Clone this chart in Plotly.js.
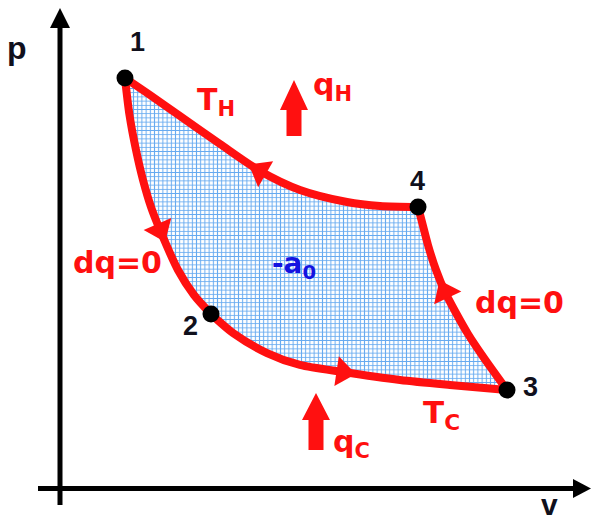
<!DOCTYPE html>
<html><head><meta charset="utf-8">
<script src="https://cdn.plot.ly/plotly-3.0.1.min.js"></script>
<style>html,body{margin:0;padding:0;background:#fff}#chart{width:591px;height:522px}</style>
</head><body><div id="chart"></div>
<script>
// ---- data: specific volume v and pressure p (arbitrary units) ----
// isotherm T_H, state 1 -> state 4
const isoHot_v = [12.26, 16.98, 22.64, 30.19, 37.74, 45.28, 54.15, 60.38, 67.55];
const isoHot_p = [86.74, 83.16, 78.74, 72.84, 67.16, 63.16, 60.63, 59.79, 59.58];
// adiabat dq=0, state 1 -> state 2
const adiaA_v = [12.26, 13.11, 14.34, 15.66, 17.17, 18.87, 22.26, 25.28, 28.49];
const adiaA_p = [86.74, 78.95, 71.58, 65.26, 59.58, 54.74, 46.32, 41.05, 37.05];
// isotherm T_C, state 2 -> state 3
const isoCold_v = [28.49, 32.64, 39.06, 45.28, 53.40, 64.15, 73.58, 84.34];
const isoCold_p = [37.05, 33.05, 28.84, 26.32, 24.84, 23.16, 22.11, 21.05];
// adiabat dq=0, state 4 -> state 3
const adiaB_v = [67.55, 68.30, 69.43, 70.94, 72.64, 74.72, 76.98, 80.00, 84.34];
const adiaB_p = [59.58, 56.42, 51.58, 46.32, 41.68, 37.26, 32.84, 27.79, 21.05];
const stateLabels = ['1', '2', '3', '4'];

// ---- geometry helpers ----
const W = 591, H = 522;
const M = {l: 60, r: 1, t: 15, b: 32};
const PW = W - M.l - M.r, PH = H - M.t - M.b;
const XR = [0, 100], YR = [0, 100];
const sx = PW / (XR[1] - XR[0]), sy = PH / (YR[1] - YR[0]);
const PX = px => (px - M.l) / PW;          // pixel -> paper x
const PY = py => (H - M.b - py) / PH;      // pixel -> paper y
function pathPx(pts) { return 'M' + pts.map(p => PX(p[0]).toFixed(5) + ',' + PY(p[1]).toFixed(5)).join('L') + 'Z'; }

const RED = '#ff1010';
const DARK = '#10101c';

// closed cycle for the hatched area: 1 -> 2 -> 3 -> 4 -> 1
const cycV = adiaA_v.concat(isoCold_v.slice(1), adiaB_v.slice().reverse().slice(1), isoHot_v.slice().reverse().slice(1));
const cycP = adiaA_p.concat(isoCold_p.slice(1), adiaB_p.slice().reverse().slice(1), isoHot_p.slice().reverse().slice(1));

const traces = [];
traces.push({
  x: cycV, y: cycP, type: 'scatter', mode: 'lines', fill: 'toself',
  line: {width: 0, color: 'rgba(0,0,0,0)', shape: 'spline', smoothing: 0.5}, fillcolor: '#ffffff',
  fillpattern: {shape: '+', fgcolor: '#66aaf0', bgcolor: '#ffffff', size: 4.2, solidity: 0.42, fillmode: 'replace'},
  hoverinfo: 'skip', showlegend: false
});
[[adiaA_v, adiaA_p], [isoCold_v, isoCold_p], [adiaB_v, adiaB_p], [isoHot_v, isoHot_p]].forEach(c => {
  traces.push({x: c[0], y: c[1], type: 'scatter', mode: 'lines',
    line: {color: RED, width: 8, shape: 'spline', smoothing: 0.8}, hoverinfo: 'skip', showlegend: false});
});

// direction arrows on each process (travel direction of the cycle)
function arrowAt(vs, ps, i, forward) {
  let dx = (vs[i + 1] - vs[i - 1]) * sx, dy = -(ps[i + 1] - ps[i - 1]) * sy;
  if (!forward) { dx = -dx; dy = -dy; }
  return {x: vs[i], y: ps[i], a: Math.atan2(dy, dx) * 180 / Math.PI};
}
const arrows = [arrowAt(adiaA_v, adiaA_p, 5, true), arrowAt(isoCold_v, isoCold_p, 4, true),
                arrowAt(adiaB_v, adiaB_p, 4, false), arrowAt(isoHot_v, isoHot_p, 4, false)];
traces.push({
  x: arrows.map(a => a.x), y: arrows.map(a => a.y), type: 'scatter', mode: 'markers',
  marker: {symbol: 'triangle-right', size: 26, color: RED, angle: arrows.map(a => a.a), line: {width: 0}},
  hoverinfo: 'skip', showlegend: false
});

// state points
const stV = [isoHot_v[0], adiaA_v[adiaA_v.length - 1], isoCold_v[isoCold_v.length - 1], adiaB_v[0]];
const stP = [isoHot_p[0], adiaA_p[adiaA_p.length - 1], isoCold_p[isoCold_p.length - 1], adiaB_p[0]];
traces.push({x: stV, y: stP, type: 'scatter', mode: 'markers',
  marker: {size: 17, color: '#000000'}, hoverinfo: 'skip', showlegend: false});

// ---- shapes: axes with arrowheads, heat-flow arrows ----
const shapes = [];
const axLine = (x0, y0, x1, y1) => ({type: 'line', xref: 'paper', yref: 'paper',
  x0: PX(x0), y0: PY(y0), x1: PX(x1), y1: PY(y1), line: {color: '#000', width: 5}});
shapes.push(axLine(60, 505, 60, 26));
shapes.push(axLine(38, 488.5, 576, 488.5));
shapes.push({type: 'path', xref: 'paper', yref: 'paper', path: pathPx([[50, 28], [70, 28], [60, 8]]), fillcolor: '#000', line: {width: 0}});
shapes.push({type: 'path', xref: 'paper', yref: 'paper', path: pathPx([[573, 479], [573, 498], [591, 488.5]]), fillcolor: '#000', line: {width: 0}});
function bigArrow(cx, top, base, bottom, hh, sh) {
  return {type: 'path', xref: 'paper', yref: 'paper', fillcolor: RED, line: {width: 0},
    path: pathPx([[cx, top], [cx + hh, base], [cx + sh, base], [cx + sh, bottom], [cx - sh, bottom], [cx - sh, base], [cx - hh, base]])};
}
shapes.push(bigArrow(294, 80, 110, 136, 14, 7.5));
shapes.push(bigArrow(316, 393, 420, 450, 14, 7.5));

// ---- annotations ----
const ann = [];
const redFont = s => ({family: 'DejaVu Sans', size: s, color: RED, weight: 700});
const txt = (t, px, py, font, xa) => ({text: t, xref: 'paper', yref: 'paper', x: PX(px), y: PY(py),
  xanchor: xa || 'center', yanchor: 'middle', showarrow: false, font: font});
ann.push(txt('p', 17, 48, {family: 'Liberation Sans', size: 32, color: DARK, weight: 700}));
ann.push(txt('v', 549, 504, {family: 'Liberation Sans', size: 30, color: DARK, weight: 700}));
ann.push(txt('T<sub>H</sub>', 195, 102, redFont(30), 'left'));
ann.push(txt('q<sub>H</sub>', 311, 86, redFont(30), 'left'));
ann.push(txt('dq=0', 117, 262, redFont(30)));
ann.push(txt('dq=0', 519, 302, redFont(30)));
ann.push(txt('T<sub>C</sub>', 421, 414, redFont(31), 'left'));
ann.push(txt('q<sub>C</sub>', 331, 443, redFont(30), 'left'));
ann.push(txt('-a<sub>0</sub>', 270, 265, {family: 'DejaVu Sans', size: 28, color: '#1414e0', weight: 700}, 'left'));
const lblShift = [[13, 36], [-21, -12], [23, 3], [-1, 26]];
stateLabels.forEach((s, i) => ann.push({text: s, x: stV[i], y: stP[i], xref: 'x', yref: 'y',
  xshift: lblShift[i][0], yshift: lblShift[i][1], showarrow: false,
  font: {family: 'Liberation Sans', size: 27, color: DARK, weight: 700}}));

const layout = {
  width: W, height: H, margin: M, paper_bgcolor: '#fff', plot_bgcolor: '#fff',
  xaxis: {range: XR, visible: false, fixedrange: true},
  yaxis: {range: YR, visible: false, fixedrange: true},
  shapes: shapes, annotations: ann, showlegend: false
};
Plotly.newPlot('chart', traces, layout, {staticPlot: true, displayModeBar: false});
</script></body></html>
